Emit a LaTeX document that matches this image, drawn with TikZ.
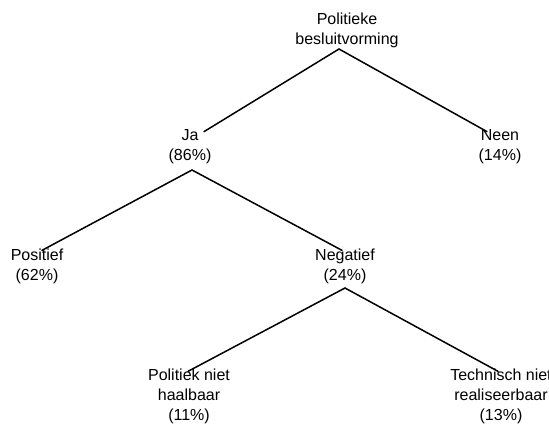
\documentclass[tikz,border=0pt]{standalone}
\usepackage{fontspec}
\setmainfont{Liberation Sans}
\tikzset{
  lbl/.style={align=center, inner sep=0pt, font=\fontsize{16}{20}\selectfont},
  conn/.style={line width=1.5pt, line cap=round}
}
\begin{document}
\begin{tikzpicture}[x=1pt,y=-1pt]
\useasboundingbox (0,0) rectangle (549,425);
\node[lbl] (top) at (347,30) {Politieke\\besluitvorming};
\node[lbl] (ja) at (190,147) {Ja\\(86\%)};
\node[lbl] (neen) at (500,147) {Neen\\(14\%)};
\node[lbl] (pos) at (37,266) {Positief\\(62\%)};
\node[lbl] (neg) at (345,266) {Negatief\\(24\%)};
\node[lbl] (pol) at (189,396) {Politiek niet\\haalbaar\\(11\%)};
\node[lbl] (tech) at (501,396) {Technisch niet\\realiseerbaar\\(13\%)};
\coordinate (a1) at (339,49);
\coordinate (a2) at (192,170);
\coordinate (a3) at (345,288);
\draw[conn] (a1) -- ([xshift=14pt,yshift=-2pt]ja.north);
\draw[conn] (a1) -- ([xshift=-13pt,yshift=-2pt]neen.north);
\draw[conn] (a2) -- ([xshift=5pt,yshift=-2pt]pos.north);
\draw[conn] (a2) -- ([xshift=-3pt,yshift=-2pt]neg.north);
\draw[conn] (a3) -- ([xshift=-1pt,yshift=-3pt]pol.north);
\draw[conn] (a3) -- ([xshift=-3pt,yshift=-3pt]tech.north);
\end{tikzpicture}
\end{document}
